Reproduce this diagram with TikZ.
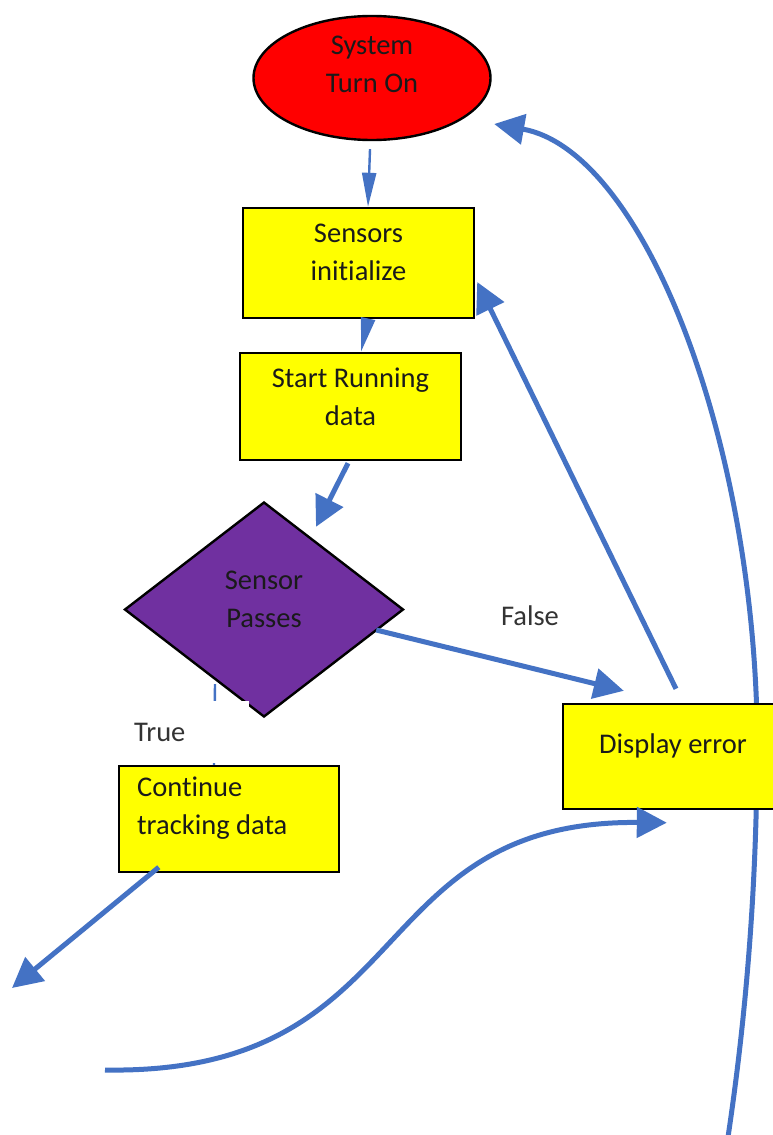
\documentclass[tikz,border=0pt]{standalone}
\usepackage{fontspec}
\setmainfont{Carlito}[Ligatures=NoCommon]
\usetikzlibrary{shapes.geometric,arrows.meta,backgrounds}
\definecolor{flowblue}{HTML}{4472C4}
\definecolor{flowyellow}{HTML}{FFFF00}
\definecolor{flowred}{HTML}{FF0000}
\definecolor{flowpurple}{HTML}{7030A0}
\definecolor{tagtext}{HTML}{333333}
\definecolor{bodytext}{HTML}{1A1A1A}
\begin{document}
\begin{tikzpicture}[x=1pt,y=-1pt,
  every node/.style={font=\fontsize{28.5}{38}\selectfont},
  outline/.style={draw=black, line width=2.4pt, inner sep=0pt},
  box/.style={outline, rectangle, fill=flowyellow},
  lbl/.style={align=center, text=bodytext, inner sep=0pt},
  tag/.style={text=tagtext, inner sep=0pt},
  flow/.style={draw=flowblue, line width=5pt, -{Triangle[length=30pt,width=30pt]}},
  thinflow/.style={draw=flowblue, line width=2.4pt, -{Triangle[length=34pt,width=14pt]}},
  link/.style={draw=flowblue, line width=2.4pt},
]
\useasboundingbox (0,0) rectangle (772,1135);

% shapes
\node[outline, ellipse, fill=flowred, minimum width=237pt, minimum height=124pt] (on) at (372,78) {};
\node[box, minimum width=231pt, minimum height=110pt] (init) at (358.5,263) {};
\node[box, minimum width=221pt, minimum height=107pt] (run) at (350.5,406.5) {};
\node[outline, diamond, fill=flowpurple, minimum width=279pt, minimum height=215pt] (pass) at (264,609.5) {};
\node[box, minimum width=220pt, minimum height=105pt] (err) at (673,756.5) {};
\node[box, minimum width=220pt, minimum height=106pt] (cont) at (229,819) {};

% texts
\node[lbl] (onT) at (372,64) {System\\Turn On};
\node[lbl] (initT) at (358.5,252) {Sensors\\initialize};
\node[lbl] (runT) at (350.5,397) {Start Running\\data};
\node[lbl] (passT) at (264,599) {Sensor\\Passes};
\node[lbl] (errT) at (673,746) {Display error};
\node[lbl, align=left, anchor=west] (contT) at (137,808) {Continue\\tracking data};
\node[tag] (falseT) at (530,616) {False};

% free ends
\coordinate (loopstart) at (728,1137);
\coordinate (loopin) at (105,1070);
\coordinate (contend) at (12,988);

% long return loop behind the error box
\begin{scope}[on background layer]
  \fill[white] (0,0) rectangle (772,1135);
  \draw[flow] (loopstart) .. controls (750,990) and (758,850) .. (757,720)
    .. controls (750,425) and (640,150) .. ([shift={(2.5,46)}]on.east);
\end{scope}

% connectors
\draw[thinflow] ([shift={(-2,8)}]on.south) -- ([xshift=9.5]init.north);
\draw[thinflow] ([xshift=9.5]init.south) -- ([xshift=10.5]run.north);
\draw[flow] ([shift={(-2.5,2)}]run.south) -- ([shift={(52,26)}]pass.north);
\draw[flow] ([shift={(-28.5,20.5)}]pass.east) -- ([shift={(62,-12)}]err.north west);
\draw[flow] ([shift={(3,-14)}]err.north) -- ([shift={(2,19)}]init.east);
\draw[flow] ([shift={(41,-6)}]cont.south west) -- (contend);
\draw[flow] (loopin) .. controls (420,1075) and (360,820) .. ([shift={(105,12.5)}]err.south west);
\draw[link] ([shift={(-49,-34)}]pass.south) -- ([xshift=-15]cont.north);

% label of the true branch
\node[tag, fill=white, anchor=north west, text width=101pt, inner xsep=14pt, inner ysep=0pt,
  minimum height=62pt, align=left] (trueT) at (120,701) {True};
\end{tikzpicture}
\end{document}
